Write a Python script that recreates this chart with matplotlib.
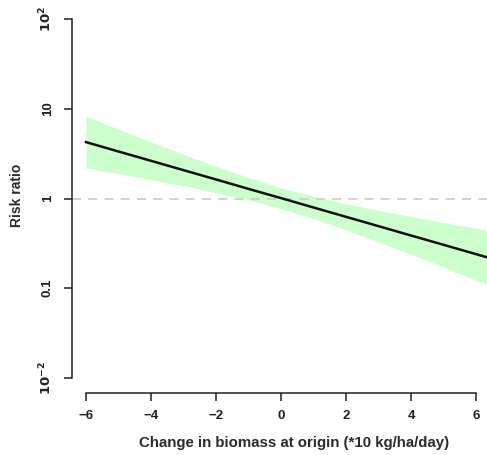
import matplotlib
matplotlib.use("Agg")
import matplotlib.pyplot as plt
import numpy as np

plt.rcParams['font.family'] = ['Liberation Sans', 'DejaVu Sans']

# Data (x: change in biomass, risk ratio on log scale)
x_vals = [-6, -5, -4, -3, -2, -1, 0, 1, 2, 3, 4, 5, 6, 6.4]
rr = [4.25, 3.34, 2.63, 2.07, 1.63, 1.28, 1.01, 0.794, 0.625, 0.492, 0.387, 0.305, 0.240, 0.218]
rr_upper = [8.28, 5.92, 4.27, 3.10, 2.28, 1.71, 1.32, 1.06, 0.875, 0.736, 0.628, 0.540, 0.468, 0.44]
rr_lower = [2.18, 1.89, 1.62, 1.38, 1.16, 0.962, 0.771, 0.596, 0.447, 0.329, 0.239, 0.172, 0.123, 0.108]

x_ticks = [-6, -4, -2, 0, 2, 4, 6]
x_ticklabels = ['\u22126', '\u22124', '\u22122', '0', '2', '4', '6']
y_ticks = [1e-2, 0.1, 1, 10, 1e2]
y_ticklabels = ['$\\mathbf{10^{-2}}$', '0.1', '1', '10', '$\\mathbf{10^{2}}$']

W, H = 487, 455
fig = plt.figure(figsize=(W / 100, H / 100), dpi=100)
ax = fig.add_axes([72 / W, (H - 393) / H, 1 - 72 / W, (393 - 4) / H])

ax.fill_between(x_vals, rr_lower, rr_upper, color='#ccffcc', lw=0, zorder=1)
ax.axhline(1, color='#cfcfcf', lw=1.3, dashes=(5, 4), zorder=2)
ax.plot(x_vals, rr, color='#111111', lw=1.8, zorder=3)

ax.set_yscale('log')
ax.set_xlim(-6 - 14 / 32.5, 6 + 11 / 32.5)
ax.set_ylim(10 ** (-2 - 15 / 89.7), 10 ** (2 + 15 / 89.7))

for s in ['top', 'right']:
    ax.spines[s].set_visible(False)
ax.spines['left'].set_bounds(1e-2, 1e2)
ax.spines['bottom'].set_bounds(-6, 6)
for s in ['left', 'bottom']:
    ax.spines[s].set_linewidth(1.1)
    ax.spines[s].set_color('#222222')

ax.set_xticks(x_ticks)
ax.set_xticklabels(x_ticklabels, fontsize=9.5, fontweight='bold', color='#222222')
ax.set_yticks(y_ticks)
ax.set_yticklabels(y_ticklabels, fontsize=9.5, fontweight='bold', color='#222222',
                   rotation=90, va='center')
ax.yaxis.set_minor_locator(matplotlib.ticker.NullLocator())
ax.tick_params(axis='both', length=6, width=1.1, color='#222222')
ax.tick_params(axis='x', pad=6)
ax.tick_params(axis='y', pad=7)

ax.set_xlabel('Change in biomass at origin (*10 kg/ha/day)', fontsize=10.8,
              fontweight='bold', color='#2a2a2a')
ax.xaxis.set_label_coords((294 - 72) / (W - 72), (393 - 436) / 389)
ax.set_ylabel('Risk ratio', fontsize=10, fontweight='bold', color='#2a2a2a')
ax.yaxis.set_label_coords((24 - 72) / (W - 72), (393 - 195) / 389)

fig.savefig('out.png', dpi=100)
